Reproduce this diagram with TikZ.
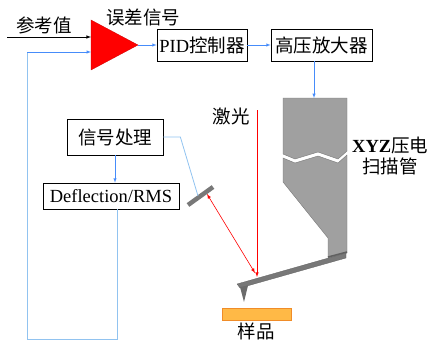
\documentclass[tikz,border=0pt]{standalone}
\usepackage{fontspec}
\setmainfont{Liberation Serif}
\newfontfamily\cjk{Noto Sans CJK SC}
\usetikzlibrary{arrows}

\definecolor{sigblue}{RGB}{70,140,250}
\definecolor{fbblue}{RGB}{145,195,240}
\definecolor{tubegray}{RGB}{160,160,160}
\definecolor{edgegray}{RGB}{120,120,120}
\definecolor{sampleorange}{RGB}{255,185,70}
\definecolor{sampleedge}{RGB}{240,140,40}

\tikzset{
	box/.style={draw, line width=0.7pt, inner sep=0pt, font=\fontsize{18.5}{20}\selectfont},
	label/.style={inner sep=0pt, font=\fontsize{18.5}{20}\selectfont},
	sigline/.style={sigblue, line width=0.5pt, -latex},
	fbline/.style={fbblue, line width=0.8pt},
	laser/.style={red, line width=0.6pt}
}

\begin{document}
\begin{tikzpicture}[x=1pt,y=-1pt]
	\useasboundingbox (0,0) rectangle (430,342);

	% Draw the comparator
	\fill[red, draw=red!80!black, line width=0.3pt] (91,20) -- (138,45) -- (91,70) -- cycle;
	\coordinate (ampin1) at (91,37);
	\coordinate (ampin2) at (91,52);
	\coordinate (ampout) at (138,45);
	\coordinate (refin) at (7,37);

	\node [label] (ref) at (44,25) {\cjk 参考值};
	\node [label] (err) at (143,17) {\cjk 误差信号};

	% Boxes
	\node [box, minimum width=90, minimum height=32] (pid) at (202,45) {PID\cjk 控制器};
	\node [box, minimum width=101, minimum height=32] (hv) at (321.5,45) {\cjk 高压放大器};
	\node [box, minimum width=96, minimum height=36] (sig) at (115,137) {\cjk 信号处理};
	\node [box, minimum width=136, minimum height=26] (defl) at (111,196) {Deflection/RMS};

	% Scanner tube, upper and lower part
	\fill[tubegray, draw=edgegray, line width=0.4pt] (283,98) -- (347,98) -- (347,151) -- (338,159) -- (318,152) -- (295,159) -- (283,154) -- cycle;
	\fill[tubegray, draw=edgegray, line width=0.4pt] (283,158) -- (295,163) -- (318,156) -- (338,163) -- (347,155) -- (347,253) -- (328,258) -- (328,238) -- (283,182) -- cycle;
	\draw[edgegray!80!black, line width=1.5pt] (328,257) -- (347,252);
	\coordinate (tubetop) at (314,98);

	% Cantilever and tip
	\fill[edgegray, draw=edgegray!80!black, line width=0.3pt] (237,284) -- (346,253) -- (346,258) -- (240,288) -- cycle;
	\fill[edgegray!90!black] (240,287) -- (248,285.5) -- (244,302) -- cycle;

	\node [label, anchor=west] (tube) at (352,158) {\begin{tabular}{@{}c@{}}\textbf{XYZ}\cjk 压电\\[-1pt]\cjk 扫描管\end{tabular}};

	% Sample
	\fill[sampleorange, draw=sampleedge, line width=0.8pt] (222,308) rectangle (291,320);
	\node [label] (sample) at (256,331) {\cjk 样品};

	% Mirror
	\draw[edgegray, line width=4.5pt] (188,205) -- (213,187);
	\coordinate (mirror) at (198,196);
	\coordinate (mirrorhit) at (207,194);

	% Laser
	\node [label] (las) at (231,116) {\cjk 激光};
	\coordinate (lasertop) at (257,110);
	\coordinate (laserspot) at (257,277);
	\coordinate (spot) at (255,273);
	\draw[laser, -latex] (lasertop) -- (laserspot);
	\draw[laser, latex-latex] (mirrorhit) -- (spot);

	% Signal path
	\draw[black, line width=0.6pt, -latex] (refin) -- (ampin1);
	\draw[sigline] (ampout) -- (pid.west);
	\draw[sigline] (pid.east) -- (hv.west);
	\draw[sigline] (hv.south -| tubetop) -- (tubetop);
	\draw[fbblue, line width=0.8pt] (sig.east) -- ++(17,0) -- (mirror);
	\draw[sigline] (sig.south) -- (sig.south |- defl.north);

	% Feedback loop
	\coordinate (fbdown) at (117,339);
	\coordinate (fbleft) at (27,339);
	\coordinate (fbup) at (27,52);
	\draw[fbline] (defl.south -| fbdown) -- (fbdown) -- (fbleft) -- (fbup);
	\draw[sigline] (fbup) -- (ampin2);
\end{tikzpicture}
\end{document}
